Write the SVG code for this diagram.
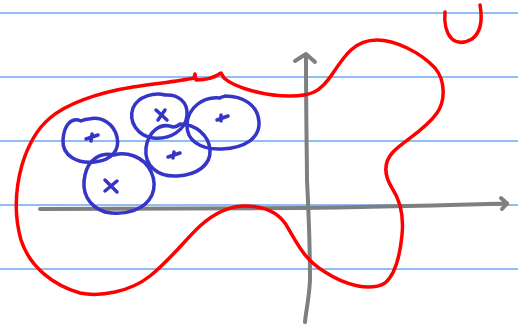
<svg xmlns="http://www.w3.org/2000/svg" width="518" height="331" viewBox="0 0 518 331">
<style>
.rule{stroke:#6aa8f0;stroke-width:1.5;fill:none}
.ax{stroke:#7f7f7f;stroke-width:4;fill:none;stroke-linecap:round;stroke-linejoin:round}
.red{stroke:#ff0000;stroke-width:3.5;fill:none;stroke-linecap:round;stroke-linejoin:round}
.blue{stroke:#3535c8;stroke-width:3.5;fill:none;stroke-linecap:round;stroke-linejoin:round}
</style>
<rect width="518" height="331" fill="#ffffff"/>
<g id="rules">
<line class="rule" x1="0" y1="13" x2="518" y2="13"/>
<line class="rule" x1="0" y1="77" x2="518" y2="77"/>
<line class="rule" x1="0" y1="141" x2="518" y2="141"/>
<line class="rule" x1="0" y1="205" x2="518" y2="205"/>
<line class="rule" x1="0" y1="269" x2="518" y2="269"/>
</g>
<g id="axes">
<path class="ax" d="M40 209 C120 208 200 208 300 208 C380 207 450 205 507 203.5"/>
<path class="ax" d="M501 198 L507 203.5 L502 209"/>
<path class="ax" d="M306 55 C306 120 307 160 307 180 C308 200 310 240 310 280 C309 300 306 310 305 322"/>
<path class="ax" d="M295 61 L306 54 L315 62"/>
</g>
<g id="region">
<path class="red" d="M50 118 C65 105 95 93 133 87 C160 83 180 81 194 78 L195 74 L196 80 C205 80 214 78 221 73 L224 78 C235 88 265 96 290 96 C310 96 320 93 333 73 C345 55 355 40 377 40 C395 40 420 52 435 68 C445 80 446 100 437 113 C425 130 405 140 393 152 C383 163 384 175 392 188 C400 200 404 215 402 235 C400 255 395 275 385 283 C370 292 345 285 325 272 C305 260 298 245 288 228 C280 213 265 206 245 206 C225 206 210 217 200 226 C185 240 170 260 150 276 C130 292 100 297 80 293 C55 286 30 268 21 240 C14 215 15 190 22 165 C28 145 38 128 50 118"/>
<path class="red" d="M445 12 C444 22 446 33 452 39 C458 44 465 43 472 39 C480 33 483 22 480 5"/>
</g>
<g id="c1">
<path class="blue" d="M81 121 C72 117 64 124 63 140 C62 156 78 164 95 162 C112 160 120 150 117 137 C114 124 102 116 89 119 C86 119 83 120 81 121 Z"/>
<path class="blue" d="M86 139 L98 135 M92 134 L91 141"/>
</g>
<g id="c2">
<path class="blue" d="M114 155 C100 152 88 160 85 175 C81 192 88 206 105 212 C125 216 145 210 152 195 C158 180 150 162 134 156 C126 153 120 153 114 155 Z"/>
<path class="blue" d="M105 180 L117 192 M117 181 L105 191"/>
</g>
<g id="c3">
<path class="blue" d="M165 95 C155 92 138 96 133 108 C128 122 138 136 153 138 C170 140 186 130 187 115 C188 102 178 94 165 95 Z"/>
<path class="blue" d="M156 110 L167 120 M165 110 L158 120"/>
</g>
<g id="c4">
<path class="blue" d="M173 127 C160 122 148 132 146 148 C144 166 158 177 177 176 C197 175 211 165 210 150 C209 135 195 124 180 124 C178 126 175 127 173 127 Z"/>
<path class="blue" d="M168 157 L180 153 M174 152 L173 158"/>
</g>
<g id="c5">
<path class="blue" d="M220 98 C203 96 188 108 187 124 C186 140 200 150 222 149 C245 148 260 138 259 122 C258 105 243 96 225 96 C223 97 221 97 220 98 Z"/>
<path class="blue" d="M217 120 L228 116 M221 115 L221 121"/>
</g>
</svg>
